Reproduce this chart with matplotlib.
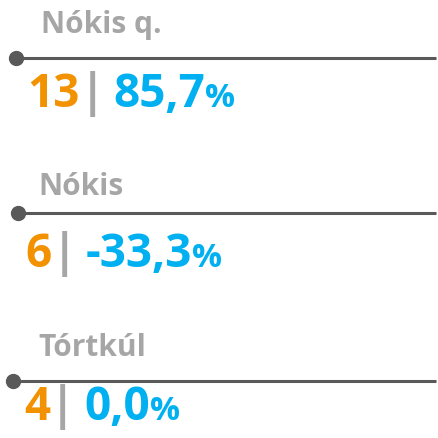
import matplotlib
matplotlib.use("Agg")
import matplotlib.pyplot as plt

# data
names = ["Nókis q.", "Nókis", "Tórtkúl"]
counts = [13, 6, 4]
changes = ["85,7", "-33,3", "0,0"]

# layout (pixels, top-left origin)
title_x = [41, 38, 38]
title_y = [33, 195, 356]
line_y = [58, 212.5, 381]
dot_x = [16, 18, 13]
value_x = [27, 25, 24]
value_y = [107, 267, 420]

GRAY = "#a6a6a6"
DARK = "#595959"
ORANGE = "#f39200"
BLUE = "#00b0f0"
FONT = "Open Sans"

W = H = 438
fig = plt.figure(figsize=(W / 100, H / 100), dpi=100)
ax = fig.add_axes([0, 0, 1, 1])
ax.set_xlim(0, W)
ax.set_ylim(H, 0)
ax.axis("off")

fig.canvas.draw()
r = fig.canvas.get_renderer()


def put_row(x, y, pieces):
    for s, color, size, gap in pieces:
        t = ax.text(x, y, s, color=color, fontsize=size, fontweight="bold",
                    family=FONT, ha="left", va="baseline")
        x += t.get_window_extent(renderer=r).width + gap


for i, name in enumerate(names):
    ax.text(title_x[i], title_y[i], name, color=GRAY, fontsize=21.5,
            fontweight="bold", family=FONT, ha="left", va="baseline")
    ax.plot([dot_x[i], 436], [line_y[i], line_y[i]], color=DARK, lw=2.2,
            solid_capstyle="butt")
    ax.plot([dot_x[i]], [line_y[i]], marker="o", ms=10, color=DARK, mec=DARK)
    put_row(value_x[i], value_y[i], [
        (str(counts[i]), ORANGE, 33, 0),
        ("|", GRAY, 33, 9),
        (changes[i], BLUE, 33, 0),
        ("%", BLUE, 24, 0),
    ])

fig.savefig("out.png", dpi=100)
